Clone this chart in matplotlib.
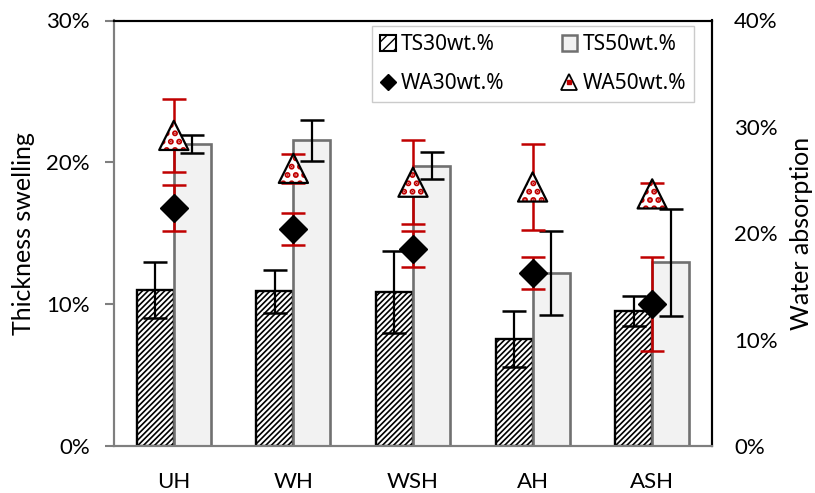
import matplotlib
matplotlib.use("Agg")
import matplotlib.pyplot as plt
import numpy as np
from matplotlib.lines import Line2D
from matplotlib.patches import Patch
from matplotlib.legend_handler import HandlerTuple
from matplotlib.ticker import FuncFormatter, MultipleLocator

# Sample groups
categories = ["UH", "WH", "WSH", "AH", "ASH"]

# Thickness swelling (%), left axis
ts30 = [11.0, 10.9, 10.85, 7.55, 9.5]
ts30_err = [2.0, 1.5, 2.9, 2.0, 1.05]
ts50 = [21.3, 21.55, 19.75, 12.2, 12.95]
ts50_err = [0.65, 1.45, 0.95, 2.95, 3.75]

# Water absorption (%), right axis
wa30 = [22.35, 20.4, 18.55, 16.3, 13.35]
wa30_err = [2.15, 1.5, 1.7, 1.5, 4.4]
wa50 = [29.2, 26.1, 24.8, 24.35, 23.7]
wa50_err = [3.4, 1.35, 3.95, 4.0, 1.0]

FONT = "Lato"
plt.rcParams["font.family"] = [FONT, "DejaVu Sans"]
FS_TICK = 16
FS_LABEL = 18

fig = plt.figure(figsize=(8.15, 4.93), dpi=100)
ax = fig.add_axes([114 / 815, 1 - 446 / 493, (712 - 114) / 815, (446 - 20.5) / 493])
ax2 = ax.twinx()

x = np.arange(len(categories))
w = 0.31
gray_edge = "#707070"
red = "#c00000"


def hatch_lw(artist, lw):
    if hasattr(artist, "set_hatch_linewidth"):
        artist.set_hatch_linewidth(lw)


plt.rcParams["hatch.linewidth"] = 1.2
b30 = ax.bar(x - w / 2, ts30, w, facecolor="white", edgecolor="black",
             linewidth=1.7, hatch="//////", zorder=2)
for p in b30:
    hatch_lw(p, 1.2)
b50 = ax.bar(x + w / 2, ts50, w, facecolor="#f2f2f2", edgecolor=gray_edge,
             linewidth=1.9, zorder=2)

eb_kw = dict(fmt="none", ecolor="black", elinewidth=1.6, capsize=8.5,
             capthick=1.8, zorder=3)
ax.errorbar(x - w / 2, ts30, yerr=ts30_err, **eb_kw)
ax.errorbar(x + w / 2, ts50, yerr=ts50_err, **eb_kw)

ax.set_xlim(-0.5, len(categories) - 0.5)
ax.set_ylim(0, 30)
ax2.set_ylim(0, 40)

red_kw = dict(fmt="none", ecolor=red, elinewidth=1.8, capsize=8.5,
              capthick=1.8, zorder=3)
ax2.errorbar(x, wa30, yerr=wa30_err, **red_kw)
ax2.errorbar(x, wa50, yerr=wa50_err, **red_kw)

# WA 30 wt.% : solid black diamonds
ax2.plot(x, wa30, linestyle="none", marker="D", markersize=14.5,
         markerfacecolor="black", markeredgecolor="black", zorder=5)

# WA 50 wt.% : white triangles with red dot fill and black outline
tri_size = 21
dots = ax2.scatter(x, wa50, s=tri_size ** 2, marker="^", facecolor="white",
                   edgecolor=red, linewidths=0, hatch="..", zorder=5)
hatch_lw(dots, 3.0)
ax2.scatter(x, wa50, s=tri_size ** 2, marker="^", facecolor="none",
            edgecolor="black", linewidths=1.6, zorder=6)

fmt = FuncFormatter(lambda v, p: f"{v:.0f}%")
ax.yaxis.set_major_locator(MultipleLocator(10))
ax.yaxis.set_major_formatter(fmt)
ax2.yaxis.set_major_locator(MultipleLocator(10))
ax2.yaxis.set_major_formatter(fmt)

ax.set_xticks(x)
ax.set_xticklabels(categories)
ax.tick_params(axis="x", length=0, pad=19, labelsize=FS_TICK, colors="black")
ax.tick_params(axis="y", direction="out", length=6.5, width=1.5, color="#7f7f7f",
               labelsize=FS_TICK, pad=11)
ax2.tick_params(axis="y", length=0, labelsize=FS_TICK, pad=16)

for a in (ax, ax2):
    a.spines["top"].set_color("black")
    a.spines["top"].set_linewidth(1.5)
    a.spines["right"].set_color("black")
    a.spines["right"].set_linewidth(1.5)
    a.spines["left"].set_color("#7f7f7f")
    a.spines["left"].set_linewidth(1.5)
    a.spines["bottom"].set_color("#7f7f7f")
    a.spines["bottom"].set_linewidth(1.5)

ax.set_ylabel("Thickness swelling", fontsize=FS_LABEL, labelpad=8)
ax2.set_ylabel("Water absorption", fontsize=FS_LABEL, labelpad=9)

ts30_h = Patch(facecolor="white", edgecolor="black", hatch="///", linewidth=1.5)
ts50_h = Patch(facecolor="#f2f2f2", edgecolor=gray_edge, linewidth=1.8)
wa30_h = Line2D([], [], linestyle="none", marker="D", markersize=8.5,
                markerfacecolor="black", markeredgecolor="black")
wa50_tri = Line2D([], [], linestyle="none", marker="^", markersize=11,
                  markerfacecolor="white", markeredgecolor="black",
                  markeredgewidth=1.3)
wa50_dot = Line2D([], [], linestyle="none", marker="s", markersize=3.2,
                  markerfacecolor=red, markeredgecolor=red)

handles = [ts30_h, wa30_h, ts50_h, (wa50_tri, wa50_dot)]
labels = ["TS30wt.%", "WA30wt.%", "TS50wt.%", "WA50wt.%"]
leg = ax2.legend(handles, labels, ncol=2, loc="upper right",
                 bbox_to_anchor=(0.9695, 0.986), borderaxespad=0,
                 frameon=True, fancybox=False, edgecolor="#bfbfbf",
                 prop={"family": ["Noto Sans", "DejaVu Sans"], "size": 15},
                 handlelength=0.75, handleheight=0.75, handletextpad=0.25,
                 columnspacing=2.75, labelspacing=0.85, borderpad=0.38,
                 handler_map={tuple: HandlerTuple(ndivide=1, pad=0)})
leg.get_frame().set_linewidth(1.0)
leg.set_zorder(10)
for p in leg.get_patches():
    hatch_lw(p, 1.0)

fig.savefig("out.png", dpi=100)
